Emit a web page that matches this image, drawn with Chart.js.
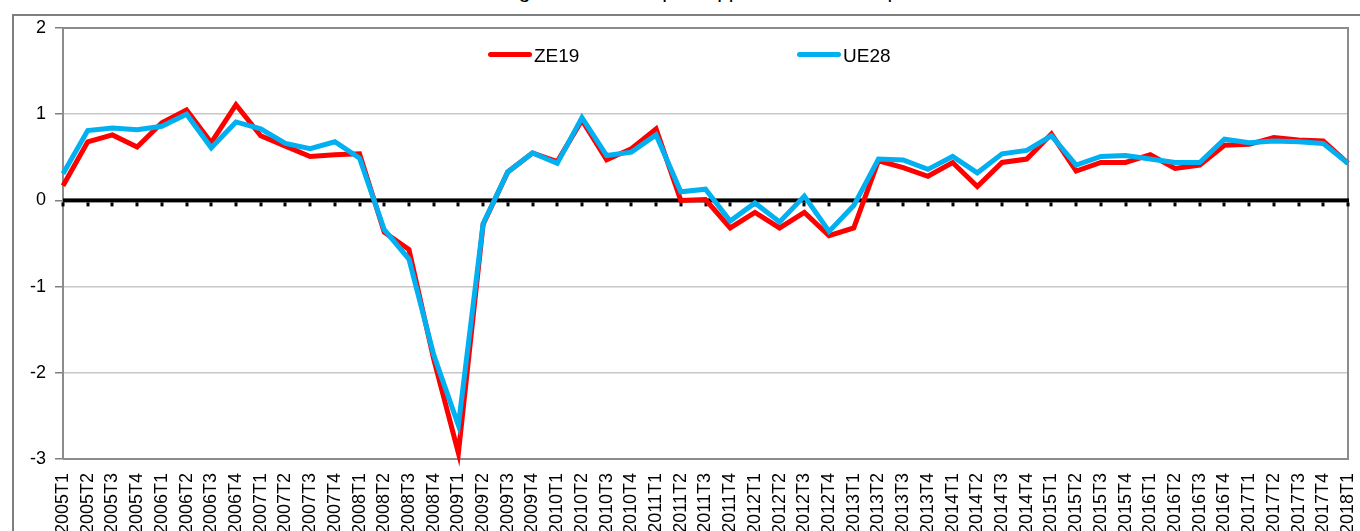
<!DOCTYPE html>
<html>
<head>
<meta charset="utf-8">
<script src="https://cdn.jsdelivr.net/npm/chart.js@4.4.0/dist/chart.umd.min.js"></script>
<style>
  html, body { margin: 0; padding: 0; background: #fff; overflow: hidden; }
  #wrap { position: relative; width: 1360px; height: 531px; font-family: 'Liberation Sans', Arial, sans-serif; }
  #frame { position: absolute; left: 12px; top: 14px; width: 1360px; height: 540px;
           border-left: 2px solid #7f7f7f; border-top: 2px solid #7f7f7f; }
  #title { position: absolute; left: 0; width: 1404px; top: -21px; text-align: center; font-size: 21px; color: #000; }
  .leg { position: absolute; top: 45px; font-size: 19px; color: #000; }
  .leg span { display: inline-block; width: 44px; height: 5px; border-radius: 3px; vertical-align: middle; margin-right: 2px; position: relative; top: -2px; }
  canvas { position: absolute; left: 0; top: 0; }
</style>
</head>
<body>
<div id="wrap">
  <div id="title">Pourcentage de variation par rapport au trimestre précédent</div>
  <div id="frame"></div>
  <canvas id="myChart" width="1360" height="531"></canvas>
  <div class="leg" style="left:488px"><span style="background:#ff0000"></span>ZE19</div>
  <div class="leg" style="left:797px"><span style="background:#00b0f0"></span>UE28</div>
</div>
<script>
var quarters = ['2005T1','2005T2','2005T3','2005T4','2006T1','2006T2','2006T3','2006T4',
    '2007T1','2007T2','2007T3','2007T4','2008T1','2008T2','2008T3','2008T4',
    '2009T1','2009T2','2009T3','2009T4','2010T1','2010T2','2010T3','2010T4',
    '2011T1','2011T2','2011T3','2011T4','2012T1','2012T2','2012T3','2012T4',
    '2013T1','2013T2','2013T3','2013T4','2014T1','2014T2','2014T3','2014T4',
    '2015T1','2015T2','2015T3','2015T4','2016T1','2016T2','2016T3','2016T4',
    '2017T1','2017T2','2017T3','2017T4','2018T1'];

var ze19 = [0.17, 0.68, 0.76, 0.62, 0.90, 1.05, 0.67, 1.11, 0.75, 0.63, 0.51, 0.53, 0.54,
    -0.37, -0.57, -1.84, -2.93, -0.28, 0.33, 0.55, 0.45, 0.93, 0.47,
    0.60, 0.83, 0.00, 0.01, -0.32, -0.14, -0.32, -0.14, -0.41, -0.32,
    0.46, 0.38, 0.28, 0.44, 0.16, 0.44, 0.48, 0.77, 0.34, 0.44,
    0.44, 0.53, 0.37, 0.41, 0.64, 0.65, 0.73, 0.70, 0.69, 0.43];

var ue28 = [0.31, 0.81, 0.84, 0.82, 0.86, 1.00, 0.61, 0.91, 0.83, 0.66, 0.60, 0.68, 0.49,
    -0.34, -0.68, -1.79, -2.61, -0.27, 0.33, 0.55, 0.43, 0.96, 0.52,
    0.56, 0.76, 0.10, 0.13, -0.24, -0.03, -0.25, 0.05, -0.36, -0.06,
    0.48, 0.47, 0.36, 0.51, 0.32, 0.54, 0.58, 0.75, 0.41, 0.51,
    0.52, 0.48, 0.44, 0.44, 0.71, 0.67, 0.69, 0.68, 0.66, 0.43];

var yTicks = [-3, -2, -1, 0, 1, 2];

var fontFam = "'Liberation Sans', Arial, sans-serif";

// zero line with its small ticks + grey border of the plot area
var plotDeco = {
    id: 'plotDeco',
    beforeDatasetsDraw: function(chart){
        var c = chart.ctx, a = chart.chartArea;
        var xs = chart.scales.x, ys = chart.scales.y;
        c.save();
        c.strokeStyle = '#8c8c8c';
        c.lineWidth = 2;
        c.beginPath();
        c.moveTo(a.left, a.top); c.lineTo(a.right, a.top);
        c.lineTo(a.right, a.bottom); c.lineTo(a.left, a.bottom);
        c.stroke();
        var y0 = ys.getPixelForValue(0);
        c.fillStyle = '#000';
        c.fillRect(a.left, y0 - 2, a.right - a.left + 1, 4);
        for (var i = 0; i < quarters.length; i++) {
            var x = xs.getPixelForValue(i);
            c.fillRect(Math.round(x) - 1.5, y0 + 2, 3, 4);
        }
        c.restore();
    }
};

window.onload = function(){
    var ctx = document.getElementById('myChart').getContext('2d');
    window.myChart = new Chart(ctx, {
        type: 'line',
        data: {
            labels: quarters,
            datasets: [{
                label: 'ZE19',
                data: ze19,
                borderColor: '#ff0000',
                backgroundColor: '#ff0000',
                borderWidth: 5,
                pointRadius: 0,
                tension: 0,
                clip: false,
                order: 2
            }, {
                label: 'UE28',
                data: ue28,
                borderColor: '#00b0f0',
                backgroundColor: '#00b0f0',
                borderWidth: 5,
                pointRadius: 0,
                tension: 0,
                clip: false,
                order: 1
            }]
        },
        options: {
            responsive: false,
            animation: false,
            layout: { padding: { top: 28, right: 12, left: 0, bottom: 0 } },
            plugins: { legend: { display: false }, tooltip: { enabled: false } },
            scales: {
                x: {
                    offset: false,
                    grid: { display: false },
                    border: { display: false },
                    ticks: {
                        autoSkip: false, maxRotation: 90, minRotation: 90,
                        color: '#000', padding: 6,
                        font: { family: fontFam, size: 18 }
                    },
                    afterFit: function(s){ s.height = 72; s.paddingLeft = 0; s.paddingRight = 0; }
                },
                y: {
                    min: -3, max: 2,
                    afterBuildTicks: function(s){ s.ticks = yTicks.map(function(v){ return { value: v }; }); },
                    grid: {
                        color: function(c){ return c.tick && c.tick.value === 0 ? 'rgba(0,0,0,0)' : '#c8c8c8'; },
                        tickColor: '#7f7f7f',
                        tickLength: 8,
                        lineWidth: 1.5
                    },
                    border: { display: true, color: '#8c8c8c', width: 2 },
                    ticks: {
                        color: '#000', padding: 9,
                        font: { family: fontFam, size: 18 }
                    },
                    afterFit: function(s){ s.width = 63; s.paddingTop = 0; s.paddingBottom = 0; }
                }
            }
        },
        plugins: [plotDeco]
    });
};
</script>
</body>
</html>
